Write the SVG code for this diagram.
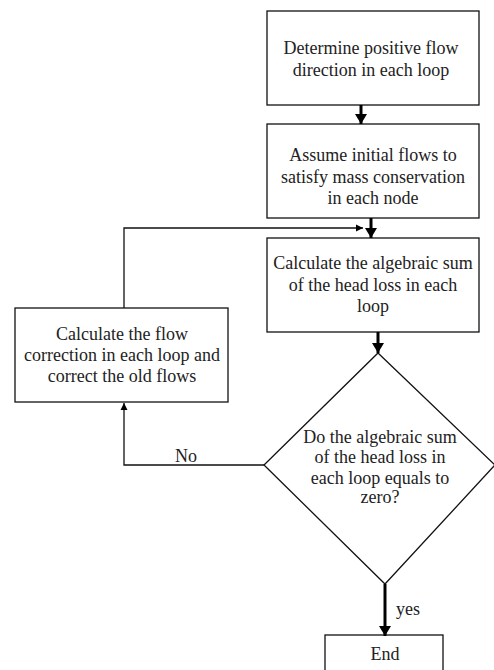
<svg xmlns="http://www.w3.org/2000/svg" width="494" height="670" viewBox="0 0 494 670">
<style>
.box{fill:#fff;stroke:#111;stroke-width:1.3}
.t{font-family:"Liberation Serif","Times New Roman",serif;font-size:18px;fill:#222;text-anchor:middle}
.thick{stroke:#000;stroke-width:3;fill:none}
.thin{stroke:#111;stroke-width:1.3;fill:none}
</style>
<defs>
<marker id="big" markerUnits="userSpaceOnUse" markerWidth="14" markerHeight="12" refX="10" refY="6" orient="auto">
<path d="M0,0 L10,6 L0,12 Z" fill="#000"/>
</marker>
<marker id="small" markerUnits="userSpaceOnUse" markerWidth="8" markerHeight="8" refX="7" refY="4" orient="auto">
<path d="M0,0.5 L7,4 L0,7.5 Z" fill="#000"/>
</marker>
</defs>
<rect width="494" height="670" fill="#fff"/>
<g id="n1">
<rect class="box" x="267" y="11" width="212" height="94"/>
<text class="t" x="371" y="54">Determine positive flow</text>
<text class="t" x="371" y="76">direction in each loop</text>
</g>
<g id="n2">
<rect class="box" x="267" y="124" width="212" height="94"/>
<text class="t" x="373" y="161">Assume initial flows to</text>
<text class="t" x="373" y="182.5">satisfy mass conservation</text>
<text class="t" x="373" y="204">in each node</text>
</g>
<g id="n3">
<rect class="box" x="267" y="238" width="212" height="94"/>
<text class="t" x="373" y="269">Calculate the algebraic sum</text>
<text class="t" x="373" y="290.5">of the head loss in each</text>
<text class="t" x="373" y="312">loop</text>
</g>
<g id="n4">
<rect class="box" x="15" y="308" width="213" height="94"/>
<text class="t" x="122" y="340">Calculate the flow</text>
<text class="t" x="122" y="361">correction in each loop and</text>
<text class="t" x="122" y="381.5">correct the old flows</text>
</g>
<g id="n5">
<polygon class="box" points="378,353 495,465 385,584 264,465"/>
<text class="t" x="380" y="443">Do the algebraic sum</text>
<text class="t" x="380" y="463">of the head loss in</text>
<text class="t" x="380" y="483.5">each loop equals to</text>
<text class="t" x="380" y="503">zero?</text>
</g>
<g id="n6">
<rect class="box" x="325" y="635" width="118" height="45"/>
<text class="t" x="385" y="660">End</text>
</g>
<g id="connectors">
<line class="thick" x1="361" y1="105" x2="361" y2="124" marker-end="url(#big)"/>
<line class="thick" x1="371" y1="218" x2="371" y2="238" marker-end="url(#big)"/>
<line class="thick" x1="378" y1="332" x2="378" y2="353" marker-end="url(#big)"/>
<line class="thick" x1="385" y1="584" x2="385" y2="636" marker-end="url(#big)"/>
<polyline class="thin" points="264,465 124,465 124,403" marker-end="url(#small)"/>
<polyline class="thin" points="124,308 124,228 363,228" marker-end="url(#small)"/>
<text class="t" x="186" y="462">No</text>
<text class="t" x="408" y="615">yes</text>
</g>
</svg>
